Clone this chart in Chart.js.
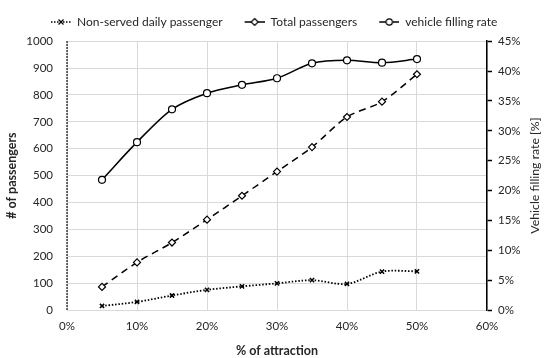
<!DOCTYPE html>
<html lang="en">

<head>
    <meta charset="UTF-8">
    <title>Passengers vs attraction</title>
    <script src="https://cdn.jsdelivr.net/npm/chart.js"></script>
    <style>
        html, body { margin: 0; padding: 0; background: #fff; }
        #wrap { width: 550px; height: 358px; }
    </style>
</head>

<body>
    <div id="wrap"><canvas id="chart"></canvas></div>

    <script>
        // data
        var attraction = [0.05, 0.10, 0.15, 0.20, 0.25, 0.30, 0.35, 0.40, 0.45, 0.50];
        var nonServed = [15, 30, 54, 75, 88, 99, 111, 97, 143, 144];
        var totalPassengers = [86, 177, 251, 336, 425, 515, 606, 718, 775, 877];
        var fillingRate = [21.8, 28.1, 33.6, 36.3, 37.7, 38.8, 41.3, 41.8, 41.4, 42.0];

        var seriesNames = ['Non-served daily passenger', 'Total passengers', 'vehicle filling rate'];
        var leftTitle = '# of passengers';
        var rightTitle = 'Vehicle filling rate [%]';
        var bottomTitle = '% of attraction';

        var FONT = 'Lato, "Open Sans", sans-serif';
        var TEXT = '#262626';
        var GAP = 12;

        function pts(values) {
            return values.map(function (v, i) { return { x: attraction[i], y: v }; });
        }

        // legend sample: blank gap on the left, then short line + marker
        function legendIcon(dash, marker) {
            var c = document.createElement('canvas');
            c.width = GAP + 20; c.height = 10;
            var g = c.getContext('2d');
            g.translate(GAP, 0);
            g.strokeStyle = '#000';
            g.lineWidth = 1.5;
            g.setLineDash(dash);
            g.beginPath(); g.moveTo(0, 5); g.lineTo(20, 5); g.stroke();
            g.setLineDash([]);
            g.lineWidth = 1.2;
            g.fillStyle = '#fff';
            g.beginPath();
            if (marker === 'cross') {
                g.moveTo(7.5, 2.5); g.lineTo(12.5, 7.5);
                g.moveTo(12.5, 2.5); g.lineTo(7.5, 7.5);
                g.stroke();
            } else if (marker === 'diamond') {
                g.moveTo(10, 1.5); g.lineTo(13.5, 5); g.lineTo(10, 8.5); g.lineTo(6.5, 5); g.closePath();
                g.fill(); g.stroke();
            } else {
                g.arc(10, 5, 3.2, 0, Math.PI * 2);
                g.fill(); g.stroke();
            }
            return c;
        }

        var icons = [legendIcon([1.5, 1.5], 'cross'), legendIcon([], 'diamond'), legendIcon([], 'circle')];

        var extras = {
            id: 'extras',
            afterLayout: function (chart) {
                // legend row starts a bit right of the canvas edge, like the original
                chart.legend.left = 29;
            },
            beforeDatasetsDraw: function (chart) {
                var ctx = chart.ctx;
                var y = chart.scales.y;
                ctx.save();
                ctx.strokeStyle = '#000';
                ctx.lineWidth = 1.5;
                ctx.setLineDash([1.5, 1.5]);
                ctx.beginPath();
                ctx.moveTo(y.right, y.top);
                ctx.lineTo(y.right, y.bottom);
                ctx.stroke();
                ctx.restore();
            },
            afterDraw: function (chart) {
                var ctx = chart.ctx;
                var a = chart.chartArea;
                ctx.save();
                ctx.translate(535, (a.top + a.bottom) / 2);
                ctx.rotate(-Math.PI / 2);
                ctx.font = '12.3px ' + FONT;
                ctx.fillStyle = TEXT;
                ctx.textAlign = 'center';
                ctx.textBaseline = 'middle';
                ctx.fillText(rightTitle, 0, 0);
                ctx.restore();
            }
        };

        var tickFont = { family: FONT, size: 11.5 };
        var titleFont = { family: FONT, size: 12.5, weight: 'bold' };

        var ctx = document.getElementById('chart').getContext('2d');
        var chart = new Chart(ctx, {
            type: 'line',
            data: {
                datasets: [{
                    label: seriesNames[0],
                    data: pts(nonServed),
                    yAxisID: 'y',
                    borderColor: '#000',
                    borderWidth: 1.8,
                    borderDash: [1.5, 1.8],
                    pointStyle: 'crossRot',
                    pointRadius: 3,
                    pointBorderWidth: 1.5,
                    pointBorderColor: '#000',
                    tension: 0.3
                }, {
                    label: seriesNames[1],
                    data: pts(totalPassengers),
                    yAxisID: 'y',
                    borderColor: '#000',
                    borderWidth: 1.5,
                    borderDash: [7, 5],
                    pointStyle: 'rectRot',
                    pointRadius: 3.5,
                    pointBorderWidth: 1.2,
                    pointBorderColor: '#000',
                    pointBackgroundColor: '#fff',
                    tension: 0.3
                }, {
                    label: seriesNames[2],
                    data: pts(fillingRate),
                    yAxisID: 'y2',
                    borderColor: '#000',
                    borderWidth: 1.5,
                    pointStyle: 'circle',
                    pointRadius: 3.5,
                    pointBorderWidth: 1.2,
                    pointBorderColor: '#000',
                    pointBackgroundColor: '#fff',
                    tension: 0.3
                }]
            },
            options: {
                responsive: true,
                maintainAspectRatio: false,
                animation: false,
                layout: { padding: { top: 6, left: 0, right: 0, bottom: 0 } },
                plugins: {
                    tooltip: { enabled: false },
                    // empty title used only as a small gap between legend and plot
                    title: {
                        display: true,
                        text: '',
                        weight: 500,
                        font: { size: 1 },
                        padding: { top: 0, bottom: 2 }
                    },
                    legend: {
                        position: 'top',
                        align: 'start',
                        labels: {
                            usePointStyle: true,
                            pointStyleWidth: GAP + 20,
                            padding: 10,
                            color: TEXT,
                            font: { family: FONT, size: 12 },
                            generateLabels: function (ch) {
                                return ch.data.datasets.map(function (d, i) {
                                    return {
                                        text: d.label,
                                        pointStyle: icons[i],
                                        fontColor: TEXT,
                                        datasetIndex: i,
                                        lineWidth: 0,
                                        hidden: false
                                    };
                                });
                            }
                        }
                    }
                },
                scales: {
                    x: {
                        type: 'linear',
                        min: 0,
                        max: 0.6,
                        afterFit: function (s) { s.height = 48; },
                        ticks: {
                            stepSize: 0.1,
                            padding: 9,
                            color: TEXT,
                            font: tickFont,
                            callback: function (v) { return Math.round(v * 100) + '%'; }
                        },
                        grid: { color: '#d9d9d9', drawTicks: false },
                        border: { color: '#d9d9d9' },
                        title: {
                            display: true,
                            text: bottomTitle,
                            color: TEXT,
                            font: titleFont,
                            padding: { top: 4.5, bottom: 0 }
                        }
                    },
                    y: {
                        position: 'left',
                        min: 0,
                        max: 1000,
                        afterFit: function (s) { s.width = 67; },
                        ticks: {
                            stepSize: 100,
                            padding: 14,
                            color: TEXT,
                            font: tickFont,
                            callback: function (v) { return String(v); }
                        },
                        grid: { color: '#d9d9d9', drawTicks: false },
                        border: { display: false },
                        title: {
                            display: true,
                            text: leftTitle,
                            color: TEXT,
                            font: titleFont,
                            padding: { top: 4.5, bottom: 0 }
                        }
                    },
                    y2: {
                        position: 'right',
                        min: 0,
                        max: 45,
                        afterFit: function (s) { s.width = 63; },
                        ticks: {
                            stepSize: 5,
                            padding: 6,
                            color: TEXT,
                            font: tickFont,
                            callback: function (v) { return v + '%'; }
                        },
                        grid: { drawOnChartArea: false, drawTicks: true, tickLength: 5, tickColor: '#000', tickWidth: 1.5 },
                        border: { color: '#000', width: 1.5 }
                    }
                }
            },
            plugins: [extras]
        });
    </script>
</body>

</html>
